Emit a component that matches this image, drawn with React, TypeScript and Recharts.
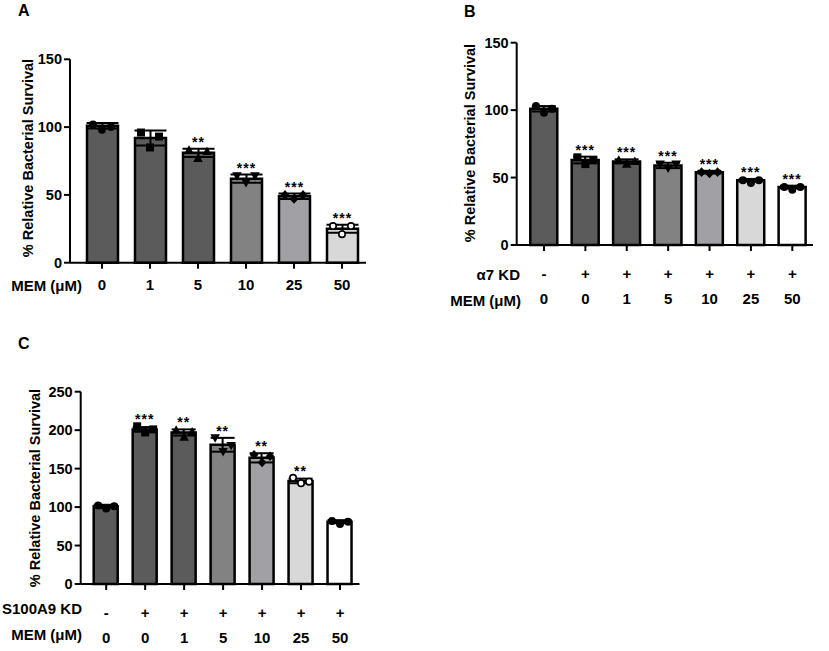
import React from 'react';
import { ComposedChart, Bar, Scatter, XAxis, YAxis, ErrorBar, LabelList, Cell } from 'recharts';

const FONT = '"Liberation Sans", Arial, sans-serif';

// Panel A: MEM dose response
const memA = ['0', '1', '5', '10', '25', '50'];
const meanA = [101, 92, 81, 62, 49, 25];
const errA = [2, 5.5, 3, 3, 2, 3];
const ptsA = [[102, 98, 100], [96, 85, 93], [83, 77, 82], [64, 59, 64], [50, 47, 50], [27, 21, 27]];
const sigA = ['', '', '**', '***', '***', '***'];

// Panel B: a7 knockdown
const kdB = ['-', '+', '+', '+', '+', '+', '+'];
const memB = ['0', '0', '1', '5', '10', '25', '50'];
const meanB = [101, 63, 62, 59, 54, 48, 43];
const errB = [2, 2.5, 1.5, 2, 1, 1, 1];
const ptsB = [[103, 98, 101], [65, 60, 63], [63, 60, 62], [60, 57, 60], [54, 53, 54], [48, 46, 48], [43, 41, 43]];
const sigB = ['', '***', '***', '***', '***', '***', '***'];

// Panel C: S100A9 knockdown
const kdC = ['-', '+', '+', '+', '+', '+', '+'];
const memC = ['0', '0', '1', '5', '10', '25', '50'];
const meanC = [101, 201, 197, 181, 164, 134, 81];
const errC = [2, 3, 4, 9, 6, 3, 2];
const ptsC = [[102, 98, 101], [205, 197, 201], [200, 191, 198], [190, 172, 180], [168, 158, 166], [138, 131, 133], [82, 78, 81]];
const sigC = ['', '***', '**', '**', '**', '**', ''];

// styles
const fillsA = ['#5b5b5b', '#5b5b5b', '#5b5b5b', '#828282', '#a0a0a5', '#d8d8d8'];
const fills7 = ['#5b5b5b', '#5b5b5b', '#5b5b5b', '#828282', '#a0a0a5', '#d8d8d8', '#ffffff'];
const markersA = ['circle', 'square', 'tri', 'itri', 'diamond', 'open'];
const markersB = ['circle', 'square', 'tri', 'itri', 'diamond', 'circle', 'circle'];
const markersC = ['circle', 'square', 'tri', 'itri', 'diamond', 'open', 'circle'];

function buildRows(mem: string[], mean: number[], err: number[], pts: number[][], sig: string[], kd?: string[]) {
  return mem.map((m, i) => ({
    key: String(i), mem: m, kd: kd ? kd[i] : '', mean: mean[i], err: err[i],
    p1: pts[i][0], p2: pts[i][1], p3: pts[i][2], sig: sig[i],
  }));
}

function Marker({ kind, cx, cy, r }: { kind: string; cx: number; cy: number; r: number }) {
  switch (kind) {
    case 'open':
      return <circle cx={cx} cy={cy} r={r - 0.8} fill="#fff" stroke="#000" strokeWidth={1.6} />;
    case 'square':
      return <rect x={cx - r} y={cy - r} width={2 * r} height={2 * r} fill="#000" />;
    case 'tri':
      return <polygon points={`${cx},${cy - r * 1.2} ${cx - r * 1.2},${cy + r * 0.9} ${cx + r * 1.2},${cy + r * 0.9}`} fill="#000" />;
    case 'itri':
      return <polygon points={`${cx},${cy + r * 1.2} ${cx - r * 1.2},${cy - r * 0.9} ${cx + r * 1.2},${cy - r * 0.9}`} fill="#000" />;
    case 'diamond':
      return <polygon points={`${cx},${cy - r * 1.2} ${cx + r * 1.1},${cy} ${cx},${cy + r * 1.2} ${cx - r * 1.1},${cy}`} fill="#000" />;
    default:
      return <circle cx={cx} cy={cy} r={r} fill="#000" />;
  }
}

const txt = { fill: '#000', fontFamily: FONT, fontWeight: 'bold' as const };

interface PanelProps {
  rows: ReturnType<typeof buildRows>;
  fills: string[];
  markers: string[];
  width: number;
  height: number;
  margin: { top: number; right: number; bottom: number; left: number };
  yMax: number;
  yTicks: number[];
  barSize: number;
  padLeft: number;
  spread: number;
  capWidth: number;
  twoRows: boolean;
}

function Panel({ rows, fills, markers, width, height, margin, yMax, yTicks, barSize, padLeft, spread, capWidth, twoRows }: PanelProps) {
  const tick = (props: any) => {
    const { x, y, payload } = props;
    const row = rows[Number(payload.value)];
    if (twoRows) {
      return (
        <g>
          <text x={x} y={y + 26} textAnchor="middle" fontSize={15} {...txt}>{row.kd}</text>
          <text x={x} y={y + 51} textAnchor="middle" fontSize={15} {...txt}>{row.mem}</text>
        </g>
      );
    }
    return <text x={x} y={y + 19} textAnchor="middle" fontSize={15} {...txt}>{row.mem}</text>;
  };

  const stars = (props: any) => {
    const vb = props.viewBox || props;
    const row = rows[props.index];
    if (!row || !row.sig) return null;
    const x = Number(vb.x), y = Number(vb.y), w = Number(vb.width), h = Number(vb.height);
    const ppu = h / row.mean;
    const top = Math.max(row.mean + row.err, row.p1, row.p2, row.p3);
    const ty = y + h - top * ppu;
    return (
      <text x={x + w / 2} y={ty - 2} textAnchor="middle" fontSize={14} letterSpacing={1} {...txt}>{row.sig}</text>
    );
  };

  const shapeAt = (off: number) => (props: any) => {
    const i = Number(props.payload.key);
    return <Marker kind={markers[i]} cx={props.cx + off} cy={props.cy} r={4} />;
  };

  return (
    <ComposedChart width={width} height={height} data={rows} margin={margin}>
      <XAxis
        dataKey="key"
        type="category"
        interval={0}
        padding={{ left: padLeft, right: 0 }}
        axisLine={{ stroke: '#000', strokeWidth: 2 }}
        tickLine={{ stroke: '#000', strokeWidth: 2 }}
        tick={tick}
        height={twoRows ? 60 : 30}
      />
      <YAxis
        domain={[0, yMax]}
        ticks={yTicks}
        width={60}
        axisLine={{ stroke: '#000', strokeWidth: 2 }}
        tickLine={{ stroke: '#000', strokeWidth: 2 }}
        tick={{ ...txt, fontSize: 14.5 }}
      />
      <Bar dataKey="mean" barSize={barSize} stroke="#000" strokeWidth={2.5} isAnimationActive={false}>
        {rows.map((r, i) => (
          <Cell key={r.key} fill={fills[i]} />
        ))}
        <ErrorBar dataKey="err" width={capWidth} stroke="#000" strokeWidth={2} direction="y" isAnimationActive={false} />
        <LabelList dataKey="sig" content={stars} />
      </Bar>
      <Scatter dataKey="p1" shape={shapeAt(-spread)} isAnimationActive={false} />
      <Scatter dataKey="p2" shape={shapeAt(0)} isAnimationActive={false} />
      <Scatter dataKey="p3" shape={shapeAt(spread)} isAnimationActive={false} />
    </ComposedChart>
  );
}

const rowsA = buildRows(memA, meanA, errA, ptsA, sigA);
const rowsB = buildRows(memB, meanB, errB, ptsB, sigB, kdB);
const rowsC = buildRows(memC, meanC, errC, ptsC, sigC, kdC);

const yLabel = '% Relative Bacterial Survival';

export default function App() {
  return (
    <div style={{ position: 'absolute', left: 0, top: 0, width: 829, height: 651, background: '#fff', overflow: 'hidden' }}>
      <div style={{ position: 'absolute', left: 0, top: 0 }}>
        <Panel rows={rowsA} fills={fillsA} markers={markersA} width={380} height={300}
          margin={{ top: 59.3, right: 14, bottom: 7.3, left: 10 }} yMax={150} yTicks={[0, 50, 100, 150]}
          barSize={31} padLeft={8} spread={9} capWidth={16} twoRows={false} />
      </div>
      <div style={{ position: 'absolute', left: 420, top: 0 }}>
        <Panel rows={rowsB} fills={fills7} markers={markersB} width={409} height={320}
          margin={{ top: 42.7, right: 16, bottom: 15, left: 36.7 }} yMax={150} yTicks={[0, 50, 100, 150]}
          barSize={27} padLeft={6.6} spread={8} capWidth={12} twoRows />
      </div>
      <div style={{ position: 'absolute', left: 0, top: 330 }}>
        <Panel rows={rowsC} fills={fills7} markers={markersC} width={400} height={321}
          margin={{ top: 61.7, right: 40.5, bottom: 7, left: 20.7 }} yMax={250} yTicks={[0, 50, 100, 150, 200, 250]}
          barSize={24} padLeft={6} spread={8} capWidth={12} twoRows />
      </div>
      <svg width={829} height={651} style={{ position: 'absolute', left: 0, top: 0, pointerEvents: 'none' }}>
        <text x={18} y={16} fontSize={16} {...txt}>A</text>
        <text x={464} y={17} fontSize={16} {...txt}>B</text>
        <text x={18} y={349} fontSize={16} {...txt}>C</text>
        <text transform="translate(28,158) rotate(-90)" textAnchor="middle" dominantBaseline="central" fontSize={14.5} {...txt}>{yLabel}</text>
        <text transform="translate(470,143) rotate(-90)" textAnchor="middle" dominantBaseline="central" fontSize={14.5} {...txt}>{yLabel}</text>
        <text transform="translate(35,488) rotate(-90)" textAnchor="middle" dominantBaseline="central" fontSize={14.5} {...txt}>{yLabel}</text>
        <text x={82} y={285} textAnchor="end" dominantBaseline="central" fontSize={15} {...txt}>MEM (μM)</text>
        <text x={520} y={274} textAnchor="end" dominantBaseline="central" fontSize={15} {...txt}>α7 KD</text>
        <text x={521} y={300} textAnchor="end" dominantBaseline="central" fontSize={15} {...txt}>MEM (μM)</text>
        <text x={82} y={608} textAnchor="end" dominantBaseline="central" fontSize={15} {...txt}>S100A9 KD</text>
        <text x={82} y={634} textAnchor="end" dominantBaseline="central" fontSize={15} {...txt}>MEM (μM)</text>
      </svg>
    </div>
  );
}
